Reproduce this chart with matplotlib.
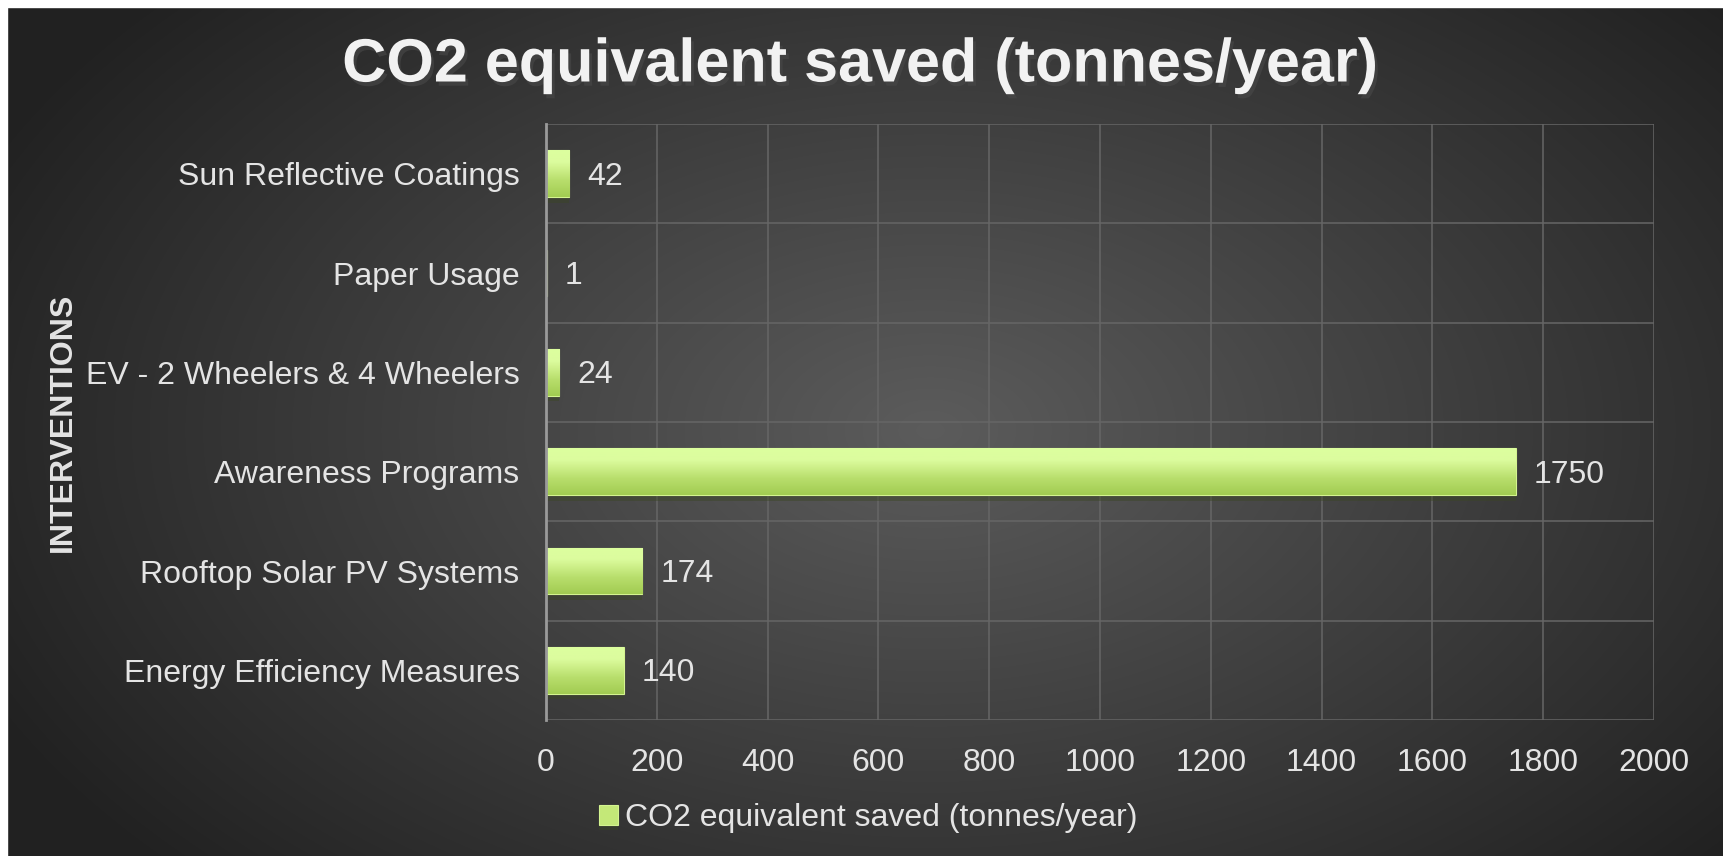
import numpy as np
import matplotlib
matplotlib.use("Agg")
import matplotlib.pyplot as plt
import matplotlib.patheffects as pe
from matplotlib.patches import Rectangle

plt.rcParams['font.family'] = ['Liberation Sans', 'DejaVu Sans']

categories = ["Energy Efficiency Measures", "Rooftop Solar PV Systems", "Awareness Programs",
              "EV - 2 Wheelers & 4 Wheelers", "Paper Usage", "Sun Reflective Coatings"]
values = [140, 174, 1750, 24, 1, 42]
x_ticks = [0, 200, 400, 600, 800, 1000, 1200, 1400, 1600, 1800, 2000]
series_name = "CO2 equivalent saved (tonnes/year)"

txt = "#e4e4e4"

fig = plt.figure(figsize=(17.23, 8.56), dpi=100)

# radial background
bg = fig.add_axes([0, 0, 1, 1], zorder=-10)
yy, xx = np.mgrid[0:856, 0:1723]
r = np.sqrt(((xx - 930) / 1000.0) ** 2 + ((yy - 430) / 620.0) ** 2)
shade = np.clip(0.36 - 0.22 * r, 0.13, 0.36)
bg.imshow(np.dstack([shade] * 3), aspect='auto', extent=[0, 1, 0, 1])
bg.set_xlim(0, 1)
bg.set_ylim(0, 1)
bg.axis('off')
fig.patches.append(Rectangle((0, 1 - 7 / 856), 1, 7 / 856, transform=fig.transFigure, color='white', zorder=5))
fig.patches.append(Rectangle((0, 0), 7 / 1723, 1, transform=fig.transFigure, color='white', zorder=5))

ax = fig.add_axes([546 / 1723, 1 - 720 / 856, 1108 / 1723, 596 / 856])
ax.patch.set_alpha(0)
y = np.arange(len(categories))
bars = ax.barh(y, values, height=0.47, color='#c4e878', edgecolor='#d4f490', linewidth=0.8,
               zorder=3, label=series_name,
               path_effects=[pe.withSimplePatchShadow(offset=(0, -4), alpha=0.45)])

grad = np.linspace(0, 1, 64).reshape(-1, 1)
cmap = matplotlib.colors.LinearSegmentedColormap.from_list(
    "g", [(0, '#a2cc52'), (0.35, '#b8de6c'), (0.75, '#dcfc9e'), (1, '#dcff9f')])
for b in bars:
    x0, y0, w, h = b.get_x(), b.get_y(), b.get_width(), b.get_height()
    im = ax.imshow(grad, cmap=cmap, aspect='auto', origin='lower',
                   extent=[x0, x0 + w, y0, y0 + h], zorder=4)
    im.set_clip_path(b)

for v, yi in zip(values, y):
    ax.text(v + 33, yi - 0.03, str(v), va='center', ha='left', color=txt, fontsize=23, zorder=5)

ax.set_xlim(0, 2000)
ax.set_ylim(-0.5, len(categories) - 0.5)
ax.set_xticks(x_ticks)
ax.set_yticks(y)
ax.set_yticklabels(categories)
ax.set_yticks(np.arange(-0.5, len(categories), 1), minor=True)
ax.tick_params(axis='both', length=0, colors=txt, labelsize=23)
ax.tick_params(axis='y', which='minor', length=0)
ax.tick_params(axis='y', pad=19)
ax.tick_params(axis='x', pad=20)
ax.grid(axis='x', color='#666666', linewidth=1.1, zorder=1)
ax.grid(axis='y', which='minor', color='#666666', linewidth=1.1, zorder=1)
for s in ['top', 'right', 'bottom']:
    ax.spines[s].set_visible(False)
ax.spines['left'].set_color('#9a9a9a')
ax.spines['left'].set_linewidth(2)
ax.spines['left'].set_zorder(6)

fig.text(63 / 1723, 1 - 422 / 856, "INTERVENTIONS", rotation=90, ha='center', va='center',
         color=txt, fontsize=23, fontweight='bold')

fig.text(860 / 1723, 1 - 66 / 856, "CO2 equivalent saved (tonnes/year)", ha='center', va='center',
         color='#f2f2f2', fontsize=44, fontweight='bold',
         path_effects=[pe.withSimplePatchShadow(offset=(2, -3), alpha=0.6)])

leg = fig.legend(handles=[bars], labels=[series_name], loc='center', bbox_to_anchor=(868 / 1723, 1 - 818 / 856),
                 frameon=False, fontsize=23, handlelength=0.6, handleheight=0.6, handletextpad=0.2)
for t in leg.get_texts():
    t.set_color(txt)

fig.savefig("out.png", dpi=100)
